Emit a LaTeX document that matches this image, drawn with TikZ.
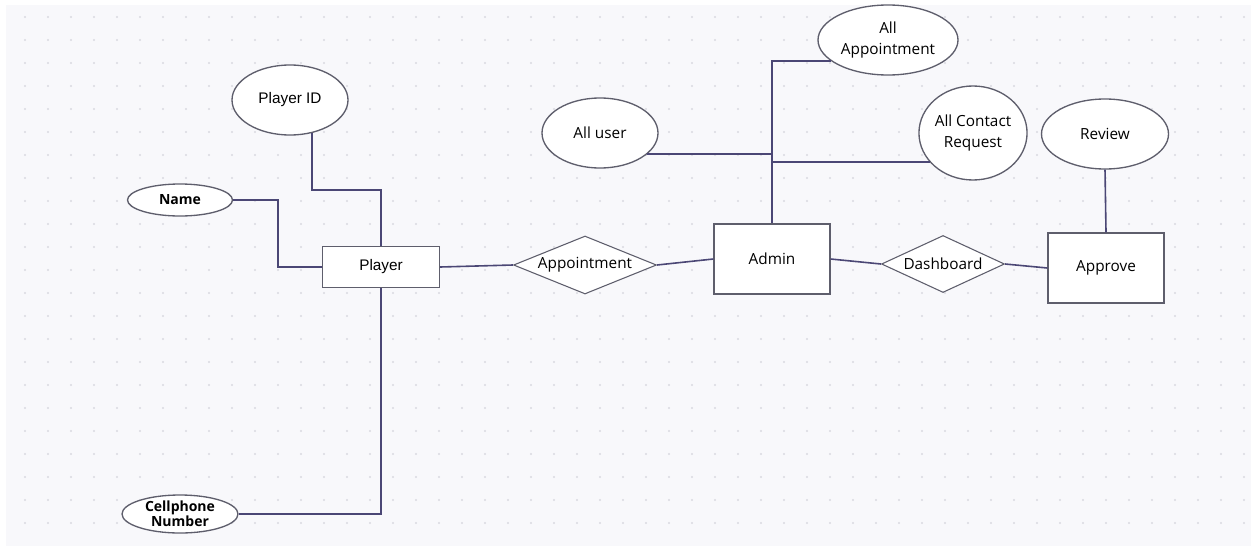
\documentclass[tikz,border=0pt]{standalone}
\usepackage{fontspec}
\setmainfont{Open Sans}
\newfontfamily\arialfont{Liberation Sans}
\usepackage{tikz}
\usetikzlibrary{shapes,positioning,calc}
\definecolor{linec}{HTML}{4B4775}
\definecolor{borderc}{HTML}{5E5E6C}
\definecolor{paperc}{HTML}{F8F8FB}
\definecolor{dotc}{HTML}{D9D9E1}
\tikzset{
  conn/.style={draw=linec,line width=1.2pt},
  attr/.style args={#1,#2}{
  ellipse,
  draw=borderc,
  fill=white,
  line width=1pt,
  inner sep=0pt,
  align=center,
  minimum width=#1*0.75pt,
  minimum height=#2*0.75pt,
  },
  entity/.style args={#1,#2}{
  rectangle,
  draw=borderc,
  fill=white,
  line width=1pt,
  minimum width=#1*0.75pt,
  minimum height=#2*0.75pt,
  },
  rel/.style args={#1,#2}{
  diamond,
  draw=borderc,
  fill=white,
  line width=0.8pt,
  inner sep=0pt,
  aspect=2.4,
  minimum width=#1*0.75pt,
  minimum height=#2*0.75pt,
  }
}

\begin{document}
\begin{tikzpicture}[x=0.75pt,y=-0.75pt,every node/.style={font=\fontsize{11.5}{16}\selectfont}]

  \useasboundingbox (0,0) rectangle (1251,546);
  \fill[paperc] (6,5) rectangle (1251,546);
  \foreach \i in {0,...,53}
    \foreach \j in {0,...,22}
      \fill[dotc] (25+23*\i,17+23*\j) circle (0.9pt);

  % entities
  \node [entity={117,41}] (player) at (381,267) {\arialfont Player};
  \node [entity={116,70}] (admin) at (772,259) {Admin};
  \node [entity={116,70}] (approve) at (1106,268) {Approve};

  % relations
  \node [rel={143,58}] (appt) at (585,265) {Appointment};
  \node [rel={123,57}] (dash) at (943,264) {Dashboard};

  % attributes
  \node [attr={116,70}] (pid) at (290,100) {\arialfont Player ID};
  \node [attr={105,32},font=\fontsize{10.5}{13}\selectfont\bfseries] (name) at (180,200) {Name};
  \node [attr={116,38},font=\fontsize{10.5}{11}\selectfont\bfseries] (cell) at (180,514) {Cellphone\\Number};
  \node [attr={140,70}] (allappt) at (888,40) {All\\Appointment};
  \node [attr={116,70}] (alluser) at (600,133) {All user};
  \node [attr={105,94}] (contact) at (973,133) {All Contact\\Request};
  \node [attr={127,70}] (review) at (1105,134) {Review};

  \coordinate (nk) at (278,200);
  \coordinate (pk) at (381,190);

  \draw [conn] (name.east) -| (nk |- player.west) -- (player.west);
  \draw [conn] (pid.-56) |- (pk) -- (player.north);
  \draw [conn] (cell.east) -| (player.south);
  \draw [conn] (player.east) -- (appt.west);
  \draw [conn] (appt.east) -- (admin.west);
  \draw [conn] (allappt.200) -| (admin.north);
  \draw [conn] (alluser.-24) -- (alluser.-24 -| admin.north);
  \draw [conn] (contact.214) -- (contact.214 -| admin.north);
  \draw [conn] (admin.east) -- (dash.west);
  \draw [conn] (dash.east) -- (approve.west);
  \draw [conn] (review.south) -- (approve.north);

\end{tikzpicture}
\end{document}
